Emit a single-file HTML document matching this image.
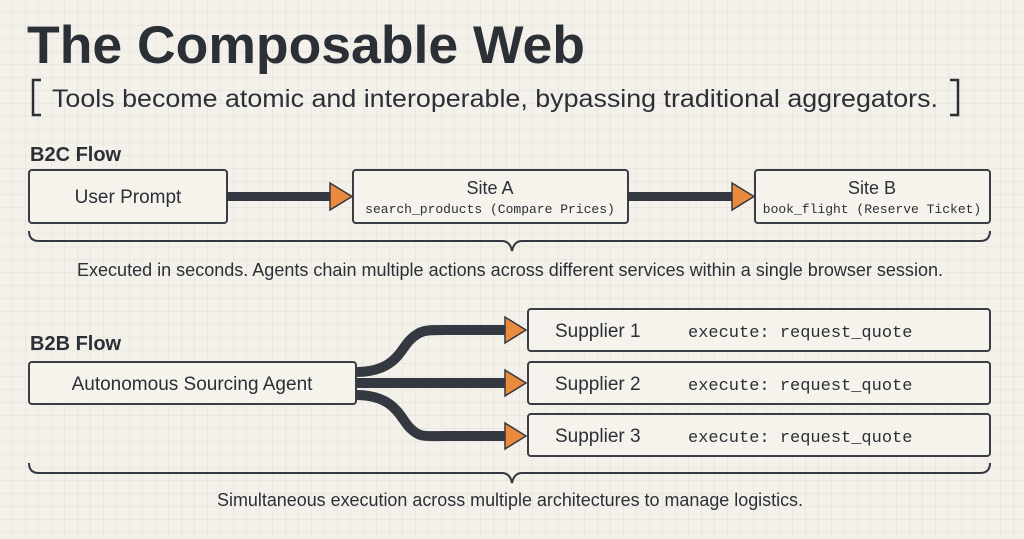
<!DOCTYPE html>
<html><head><meta charset="utf-8"><style>
html,body{margin:0;padding:0;}
body{width:1024px;height:539px;overflow:hidden;background:#f3f1ea;}
svg{display:block}
text{font-family:"Liberation Sans",sans-serif;fill:#2b2f36}
.m{font-family:"Liberation Mono",monospace}
</style></head><body>
<svg width="1024" height="539" viewBox="0 0 1024 539" xmlns="http://www.w3.org/2000/svg">
<defs>
<pattern id="g" width="13" height="13" patternUnits="userSpaceOnUse">
<path d="M13 0V13M0 13H13" stroke="#e2dfd5" stroke-width="1" fill="none"/>
</pattern>
</defs>
<rect width="1024" height="539" fill="#f3f1ea"/>
<rect width="1024" height="539" fill="url(#g)"/>

<text x="27" y="63" font-size="53" font-weight="bold" fill="#343840" textLength="558" lengthAdjust="spacingAndGlyphs">The Composable Web</text>
<path d="M41 80H33V115H41" stroke="#2b2f36" stroke-width="2.5" fill="none"/>
<text x="52" y="107" font-size="25" textLength="886" lengthAdjust="spacingAndGlyphs">Tools become atomic and interoperable, bypassing traditional aggregators.</text>
<path d="M950 80H958V115H950" stroke="#2b2f36" stroke-width="2.5" fill="none"/>

<text x="30" y="161" font-size="20" font-weight="bold">B2C Flow</text>
<g fill="#f5f3ec" stroke="#3a3d44" stroke-width="2">
<rect x="29" y="170" width="198" height="53" rx="3"/>
<rect x="353" y="170" width="275" height="53" rx="3"/>
<rect x="755" y="170" width="235" height="53" rx="3"/>
</g>
<rect x="227" y="192" width="104" height="9" fill="#343840"/>
<rect x="628" y="192" width="106" height="9" fill="#343840"/>
<g fill="#ea8a3c" stroke="#343840" stroke-width="1.5">
<path d="M330 183L352 196.5L330 210Z"/>
<path d="M732 183L754 196.5L732 210Z"/>
</g>
<text x="128" y="203" font-size="19" text-anchor="middle">User Prompt</text>
<text x="490" y="194" font-size="18" text-anchor="middle">Site A</text>
<text x="490" y="213" font-size="13" text-anchor="middle" class="m">search_products (Compare Prices)</text>
<text x="872" y="194" font-size="18" text-anchor="middle">Site B</text>
<text x="872" y="213" font-size="13" text-anchor="middle" class="m">book_flight (Reserve Ticket)</text>
<path d="M29 231Q29 241 39 241H502Q510 241 512 251Q514 241 522 241H980Q990 241 990 231" stroke="#343840" stroke-width="2" fill="none"/>
<text x="510" y="276" font-size="18" text-anchor="middle" textLength="866" lengthAdjust="spacingAndGlyphs">Executed in seconds. Agents chain multiple actions across different services within a single browser session.</text>

<text x="30" y="350" font-size="20" font-weight="bold">B2B Flow</text>
<g fill="none" stroke="#343840" stroke-width="10">
<path d="M356 372C395 372 400 350 410 340S425 330 445 330H508"/>
<path d="M356 383H508"/>
<path d="M356 395C395 395 400 418 410 428S425 436 445 436H508"/>
</g>
<g fill="#f5f3ec" stroke="#3a3d44" stroke-width="2">
<rect x="29" y="362" width="327" height="42" rx="3"/>
<rect x="528" y="309" width="462" height="42" rx="3"/>
<rect x="528" y="362" width="462" height="42" rx="3"/>
<rect x="528" y="414" width="462" height="42" rx="3"/>
</g>
<g fill="#ea8a3c" stroke="#343840" stroke-width="1.5">
<path d="M505 317L526 330L505 343Z"/>
<path d="M505 370L526 383L505 396Z"/>
<path d="M505 423L526 436L505 449Z"/>
</g>
<text x="192" y="390" font-size="19" text-anchor="middle">Autonomous Sourcing Agent</text>
<text x="555" y="337" font-size="19">Supplier 1</text>
<text x="555" y="390" font-size="19">Supplier 2</text>
<text x="555" y="442" font-size="19">Supplier 3</text>
<text x="688" y="337" font-size="17" class="m">execute: request_quote</text>
<text x="688" y="390" font-size="17" class="m">execute: request_quote</text>
<text x="688" y="442" font-size="17" class="m">execute: request_quote</text>
<path d="M29 463Q29 473 39 473H502Q510 473 512 483Q514 473 522 473H980Q990 473 990 463" stroke="#343840" stroke-width="2" fill="none"/>
<text x="510" y="506" font-size="18" text-anchor="middle" textLength="586" lengthAdjust="spacingAndGlyphs">Simultaneous execution across multiple architectures to manage logistics.</text>
</svg>
</body></html>
